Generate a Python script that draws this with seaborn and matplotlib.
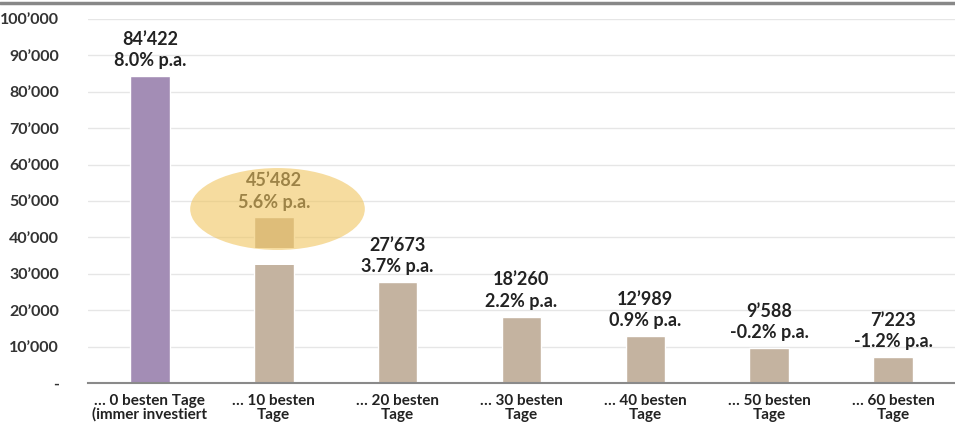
import matplotlib
matplotlib.use("Agg")
import matplotlib.pyplot as plt
import seaborn as sns
import pandas as pd
from matplotlib.patches import Ellipse, Rectangle
from matplotlib.lines import Line2D
from matplotlib.ticker import FuncFormatter

categories = ["… 0 besten Tage\n(immer investiert", "… 10 besten\nTage", "… 20 besten\nTage",
              "… 30 besten\nTage", "… 40 besten\nTage", "… 50 besten\nTage", "… 60 besten\nTage"]
values = [84422, 45482, 27673, 18260, 12989, 9588, 7223]
returns = ["8.0% p.a.", "5.6% p.a.", "3.7% p.a.", "2.2% p.a.", "0.9% p.a.", "-0.2% p.a.", "-1.2% p.a."]
bar_colors = ["#A38DB5", "#C4B3A0", "#C4B3A0", "#C4B3A0", "#C4B3A0", "#C4B3A0", "#C4B3A0"]
yticks = list(range(0, 100001, 10000))

sns.set_style("white")
plt.rcParams['font.family'] = ['Lato', 'DejaVu Sans']

fig = plt.figure(figsize=(9.55, 4.23), dpi=100)
ax = fig.add_axes([88/955, 1-383/423, 1-88/955, (383-19)/423])

df = pd.DataFrame({"cat": categories, "val": values})
sns.barplot(data=df, x="cat", y="val", hue="cat", palette=bar_colors, width=0.32,
            legend=False, ax=ax, saturation=1)

ax.set_ylim(0, 100000)
ax.set_xlim(-0.5, 6.5)
ax.set_yticks(yticks)
ax.yaxis.set_major_formatter(FuncFormatter(lambda v, p: "-" if v == 0 else f"{int(v):,}".replace(",", "’")))
ax.grid(axis="y", color="#e6e6e6", lw=1)
ax.set_axisbelow(True)
for s in ["top", "right", "left"]:
    ax.spines[s].set_visible(False)
ax.spines["bottom"].set_color("#8a8a8a")
ax.spines["bottom"].set_linewidth(1.5)
ax.tick_params(axis="y", length=0, labelsize=11.5, labelcolor="#333333", pad=21)
ax.tick_params(axis="x", length=0, labelsize=11, labelcolor="#222222", pad=8)
ax.set_xlabel("")
ax.set_ylabel("")
for lbl in ax.get_yticklabels():
    lbl.set_fontweight("bold")
for lbl in ax.get_xticklabels():
    lbl.set_fontweight("bold")
    lbl.set_linespacing(0.95)

# value labels
for i, (v, r) in enumerate(zip(values, returns)):
    ax.annotate(f"{v:,}".replace(",", "’") + "\n" + r, xy=(i, v), xytext=(0, 5),
                textcoords="offset points", ha="center", va="bottom", fontsize=13,
                color="#222222", fontweight="bold", linespacing=1.3)

# animation frame artefact: gap inside the highlighted bar
bar2 = ax.patches[1]
ax.add_patch(Rectangle((bar2.get_x() - 0.01, 32500), bar2.get_width() + 0.02, 4600,
                       facecolor="white", edgecolor="none", zorder=3))
# highlight ellipse
ax.add_patch(Ellipse((1.03, 47800), 1.41, 22500, facecolor="#F0C560", alpha=0.6,
                     edgecolor="none", zorder=5))

fig.add_artist(Line2D([0, 1], [1-3/423, 1-3/423], color="#888888", lw=2.5))

fig.savefig("out.png", dpi=100)
